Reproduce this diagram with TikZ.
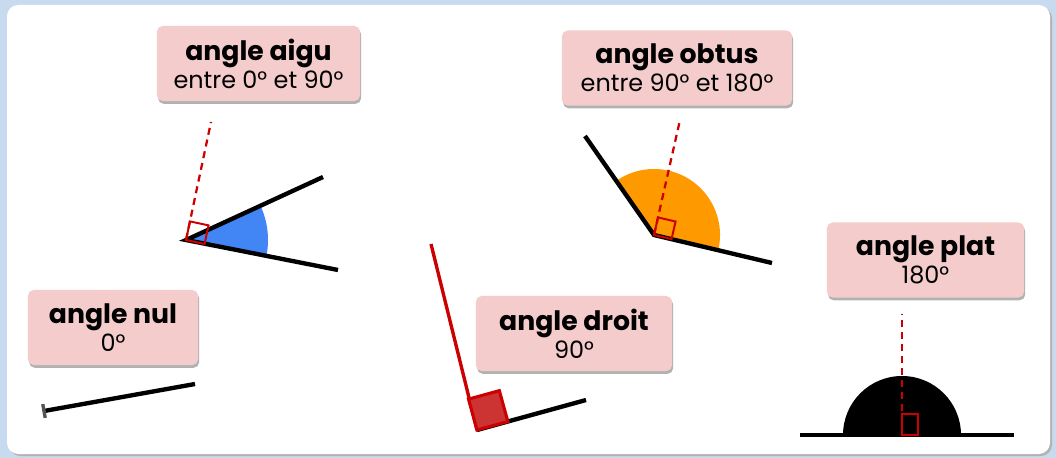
\documentclass[tikz,border=0pt]{standalone}
\usepackage{fontspec}
\setmainfont{Poppins}
\usetikzlibrary{shadows}
\definecolor{fond}{HTML}{C8DBEE}
\definecolor{rose}{HTML}{F4CCCC}
\definecolor{bleu}{HTML}{4285F4}
\definecolor{orange}{HTML}{FF9900}
\definecolor{rouge}{HTML}{CC0000}
\definecolor{rougeclair}{HTML}{CC3333}
\definecolor{gristrait}{HTML}{555555}
\newcommand{\titreangle}[1]{{\fontsize{19}{20}\selectfont\bfseries #1}}
\tikzset{
  etiquette/.style={fill=rose, rounded corners=4pt, align=center, inner sep=0pt, minimum height=1.875cm,
    font=\fontsize{17}{20}\selectfont, drop shadow={shadow xshift=0.8pt, shadow yshift=-2pt, opacity=0.3, fill=black}},
  trait/.style={line width=3.1pt, draw=black},
  pointille/.style={draw=rouge, line width=1.6pt, dash pattern=on 5pt off 3.5pt},
  carre/.style={draw=rouge, line width=1.4pt}
}

\begin{document}
\begin{tikzpicture}[x=0.025cm, y=-0.025cm]
\useasboundingbox (0,0) rectangle (1056,458);
% fond et panneau
\fill[fond] (0,0) rectangle (1056,458);
\fill[black!30, rounded corners=8pt] (9,7) rectangle (1052,456);
\fill[white, rounded corners=8pt] (7,5) rectangle (1050,454);

% etiquettes
\node[etiquette, minimum width=5.075cm] (aigu) at (258.5,63.5) {\titreangle{angle aigu}\\entre 0° et 90°};
\node[etiquette, minimum width=5.75cm] (obtus) at (677,68) {\titreangle{angle obtus}\\entre 90° et 180°};
\node[etiquette, minimum width=4.925cm] (plat) at (925.5,260) {\titreangle{angle plat}\\180°};
\node[etiquette, minimum width=4.25cm] (nul) at (113,327.5) {\titreangle{angle nul}\\0°};
\node[etiquette, minimum width=4.9cm] (droit) at (574,333.5) {\titreangle{angle droit}\\90°};

% angle aigu
\coordinate (aigu-s) at (186,240);
\coordinate (aigu-a) at (323,177);
\coordinate (aigu-b) at (338,270);
\coordinate (aigu-p) at (211,122);
\fill[bleu] (aigu-s) -- ++(-24.7:82) arc[start angle=-24.7, end angle=11.2, radius=82] -- cycle;
\draw[trait] (aigu-a) -- (aigu-s) -- (aigu-b);
\draw[pointille] (aigu-s) -- (aigu-p);
\draw[carre] (aigu-s) -- ++(12:19) -- ++(-78:19) -- ++(192:19) -- cycle;

% angle obtus
\coordinate (obtus-s) at (654,235);
\coordinate (obtus-a) at (585,136);
\coordinate (obtus-b) at (772,263);
\coordinate (obtus-p) at (680,120);
\fill[orange] (obtus-s) -- ++(13.3:66) arc[start angle=13.3, end angle=-124.9, radius=66] -- cycle;
\draw[trait] (obtus-a) -- (obtus-s) -- (obtus-b);
\draw[pointille] (obtus-s) -- (obtus-p);
\draw[carre] (obtus-s) -- ++(13:18) -- ++(-77:18) -- ++(193:18) -- cycle;

% angle droit
\coordinate (droit-s) at (477,430);
\coordinate (droit-a) at (431,244);
\coordinate (droit-b) at (586,400);
\draw[trait] (droit-s) -- (droit-b);
\draw[draw=rouge, line width=2.4pt] (droit-s) -- (droit-a);
\filldraw[fill=rougeclair, draw=rouge, line width=2.2pt] (droit-s) -- ++(-15.4:32) -- ++(-105.4:32) -- ++(164.6:32) -- cycle;

% angle nul
\coordinate (nul-s) at (44,411);
\coordinate (nul-a) at (195,384);
\draw[trait] (nul-s) -- (nul-a);
\draw[draw=gristrait, line width=2.4pt] (nul-s) ++(-100.1:7) -- ++(79.9:14);

% angle plat
\coordinate (plat-s) at (902,435);
\coordinate (plat-a) at (800,435);
\coordinate (plat-b) at (1014,435);
\coordinate (plat-p) at (902,314);
\fill[black] (plat-s) ++(59,0) arc[start angle=0, end angle=-180, radius=59] -- cycle;
\draw[trait] (plat-a) -- (plat-b);
\draw[pointille] (plat-s) -- (plat-p);
\draw[carre] (902,414) rectangle (918,435);
\end{tikzpicture}
\end{document}
